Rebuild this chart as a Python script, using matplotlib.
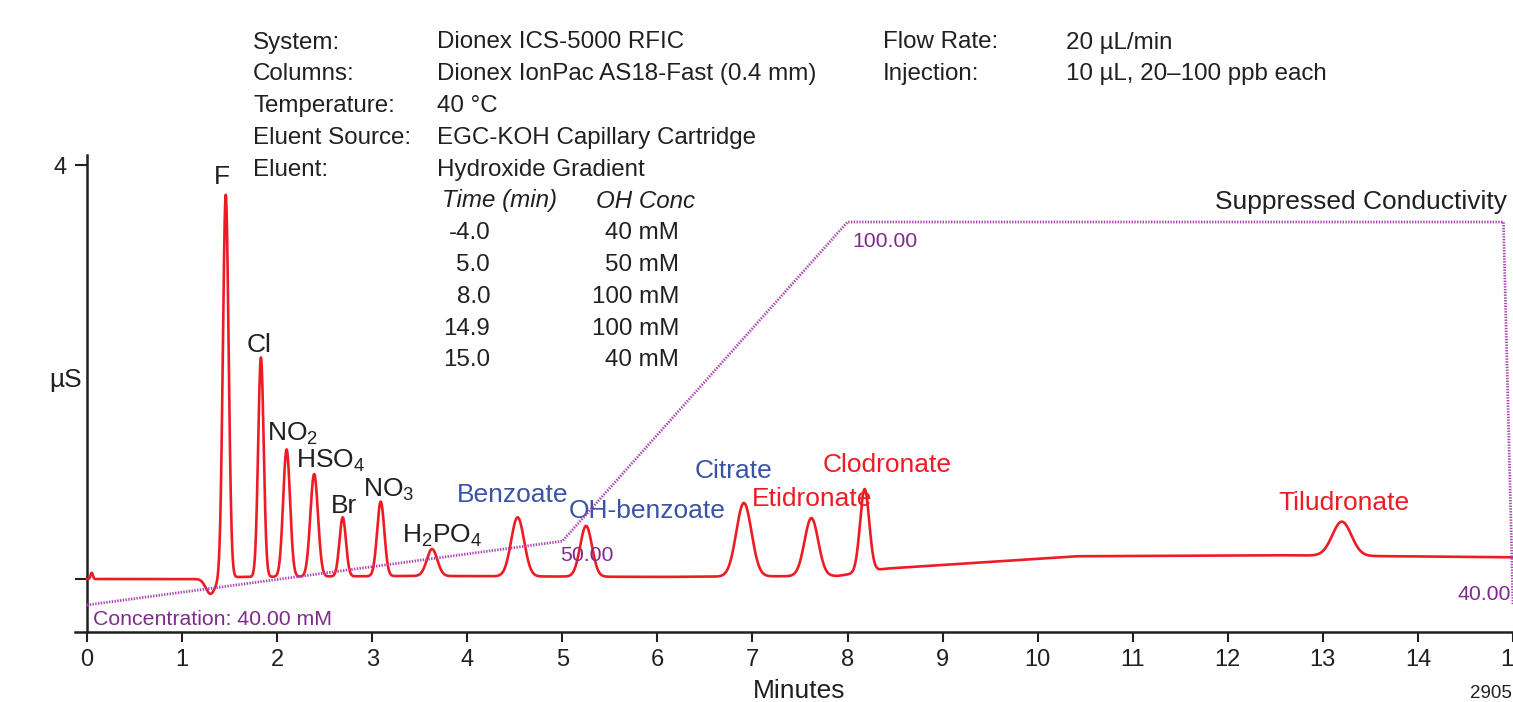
import numpy as np
import matplotlib
matplotlib.use("Agg")
import matplotlib.pyplot as plt

plt.rcParams['font.family'] = ['Liberation Sans', 'DejaVu Sans']
plt.rcParams['mathtext.fontset'] = 'custom'
plt.rcParams['mathtext.rm'] = 'Liberation Sans'
plt.rcParams['mathtext.it'] = 'Liberation Sans:italic'

# peak table (min, uS above baseline, sigma min)
peak_names = ['F', 'Cl', 'NO$_2$', 'HSO$_4$', 'Br', 'NO$_3$', 'H$_2$PO$_4$',
              'Benzoate', 'OH-benzoate', 'Citrate', 'Etidronate', 'Clodronate', 'Tiludronate']
peak_times = [1.46, 1.83, 2.10, 2.39, 2.69, 3.09, 3.63, 4.53, 5.25, 6.91, 7.62, 8.18, 13.20]
peak_heights = [3.70, 2.12, 1.23, 0.99, 0.57, 0.72, 0.26, 0.57, 0.49, 0.71, 0.56, 0.80, 0.33]
peak_sigmas = [0.030, 0.029, 0.036, 0.040, 0.034, 0.038, 0.055, 0.068, 0.062, 0.080, 0.072, 0.048, 0.100]

# small disturbances (injection blip, water dip)
dist_times = [0.05, 1.30]
dist_heights = [0.06, -0.15]
dist_sigmas = [0.012, 0.05]

# baseline drift
base_times = [0.0, 1.15, 1.6, 3.5, 6.0, 7.9, 8.4, 10.4, 12.5, 15.0]
base_levels = [0.0, 0.0, 0.02, 0.03, 0.02, 0.03, 0.10, 0.22, 0.23, 0.21]

# eluent gradient program
grad_times = [0.0, 5.0, 8.0, 14.9, 15.0]
grad_conc = [40, 50, 100, 100, 40]

# label anchors (min, uS) and colours
label_pos = [(1.42, 3.82), (1.683, 2.19), (1.893, 1.34), (2.198, 1.07), (2.567, 0.64),
             (2.903, 0.79), (3.313, 0.35), (3.892, 0.74), (5.07, 0.59), (6.395, 0.975),
             (6.995, 0.705), (7.742, 1.035), (12.528, 0.667)]
label_colors = ['#231f20'] * 7 + ['#3a53a4'] * 3 + ['#ed1c24'] * 3

header_left = [('System:', 'Dionex ICS-5000 RFIC'),
               ('Columns:', 'Dionex IonPac AS18-Fast (0.4 mm)'),
               ('Temperature:', '40 °C'),
               ('Eluent Source:', 'EGC-KOH Capillary Cartridge'),
               ('Eluent:', 'Hydroxide Gradient')]
header_right = [('Flow Rate:', '20 µL/min'),
                ('Injection:', '10 µL, 20–100 ppb each')]
table_time = ['-4.0', '5.0', '8.0', '14.9', '15.0']
table_conc = ['40 mM', '50 mM', '100 mM', '100 mM', '40 mM']

W, H = 1513, 702
fig = plt.figure(figsize=(W / 100, H / 100), dpi=100)
ax = fig.add_axes([74.6 / W, 70 / H, 1438.4 / W, 477 / H])

t = np.linspace(0, 15, 7000)
sig = np.interp(t, base_times, base_levels)
for tr, h, s in zip(peak_times + dist_times, peak_heights + dist_heights, peak_sigmas + dist_sigmas):
    sig = sig + h * np.exp(-0.5 * ((t - tr) / s) ** 2)

red = '#ed1c24'
purple = '#7f2b8e'
ink = '#231f20'
ax.plot(t, sig, color=red, lw=1.9, zorder=3)

ax.set_xlim(-0.13, 15)
ax.set_ylim(-0.512, 4.097)
ax.spines['left'].set_position(('data', 0))
ax.spines['top'].set_visible(False)
ax.spines['right'].set_visible(False)
for s in ['left', 'bottom']:
    ax.spines[s].set_linewidth(1.8)
    ax.spines[s].set_color(ink)
ax.set_xticks(range(0, 16))
ax.set_yticks([0, 4])
ax.set_yticklabels(['', '4'])
ax.tick_params(axis='x', direction='out', length=7, width=1.5, labelsize=17, pad=5, colors=ink)
ax.tick_params(axis='y', direction='out', length=8.5, width=1.5, labelsize=17, pad=6, colors=ink)
ax.set_xlabel('Minutes', fontsize=19, color=ink)
ax.xaxis.set_label_coords(0.504, -0.098)
ax.set_ylabel('µS', fontsize=19, rotation=0, ha='center', va='center', color=ink)
ax.yaxis.set_label_coords(-0.006, 0.528)

# gradient on its own scale
ax2 = ax.twinx()
ax2.set_ylim(35.77, 110.5)
ax2.axis('off')
ax2.plot(grad_times, grad_conc, color='#a945b0', lw=2.0, linestyle=(0, (0.5, 0.5)), zorder=2)
ax.text(8.05, 3.21, '100.00', color=purple, fontsize=15.3, va='baseline')
ax.text(4.975, 0.174, '50.00', color=purple, fontsize=15.3, va='baseline')
ax.text(14.98, -0.203, '40.00', color=purple, fontsize=15.3, va='baseline', ha='right')
ax.text(0.063, -0.444, 'Concentration: 40.00 mM', color=purple, fontsize=15.3, va='baseline')

for name, (lx, ly), c in zip(peak_names, label_pos, label_colors):
    ha = 'center' if name == 'F' else 'left'
    ax.text(lx, ly, name, color=c, fontsize=19, va='baseline', ha=ha, zorder=4)

ax.text(14.94, 3.575, 'Suppressed Conductivity', fontsize=19, ha='right', va='baseline', color=ink)

def ftext(px, py, s, **kw):
    fig.text(px / W, 1 - py / H, s, fontsize=17.4, va='baseline', color=ink, **kw)

row = 31.8
for i, (k, v) in enumerate(header_left):
    ftext(253, 48.5 + i * row, k)
    ftext(437, 48.5 + i * row, v)
for i, (k, v) in enumerate(header_right):
    ftext(883, 48.5 + i * row, k)
    ftext(1066, 48.5 + i * row, v)
ftext(442, 48.5 + 5 * row, 'Time (min)', style='italic')
ftext(596, 48.5 + 5 * row, 'OH Conc', style='italic')
for i, (a, b) in enumerate(zip(table_time, table_conc)):
    ftext(490, 48.5 + (6 + i) * row, a, ha='right')
    ftext(679, 48.5 + (6 + i) * row, b, ha='right')

fig.text(1470 / W, 1 - 698 / H, '2905', fontsize=13.5, va='baseline', color=ink)

fig.savefig('out.png', dpi=100)
